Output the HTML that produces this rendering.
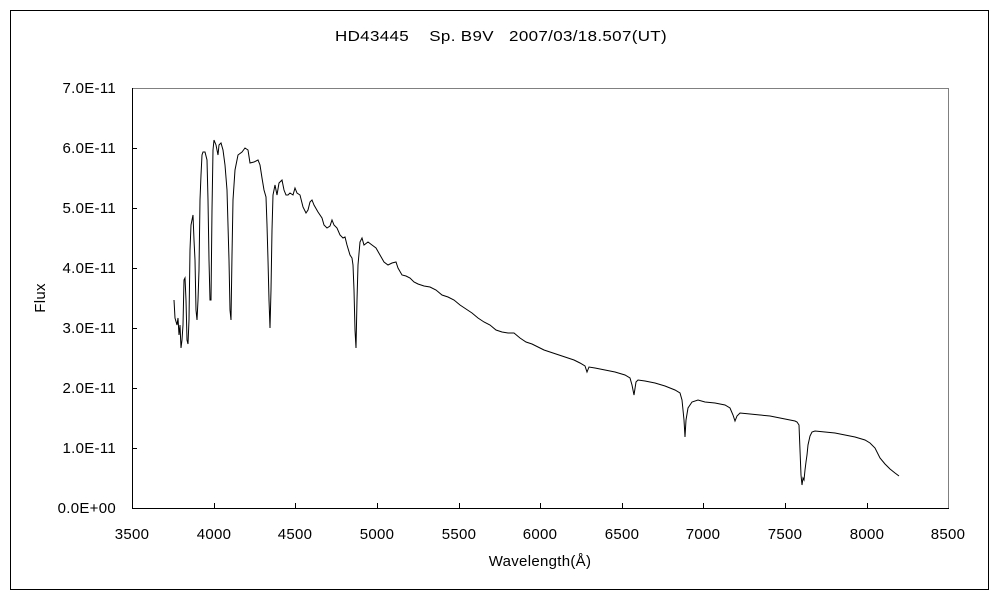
<!DOCTYPE html>
<html><head><meta charset="utf-8"><style>
body{margin:0;background:#fff}
svg text{font-family:"Liberation Sans","Noto Sans CJK JP",sans-serif;font-size:15px;fill:#000;letter-spacing:0.3px}
</style></head><body>
<svg width="1000" height="600" viewBox="0 0 1000 600" xmlns="http://www.w3.org/2000/svg">
<rect x="10.5" y="10.5" width="978" height="579" fill="#fff" stroke="#000" stroke-width="1"/>
<rect x="132.5" y="88.5" width="816" height="420" fill="#fff" stroke="#808080" stroke-width="1"/>
<line x1="132.5" y1="88" x2="132.5" y2="509" stroke="#000"/>
<line x1="132" y1="508.5" x2="949" y2="508.5" stroke="#000"/>
<g stroke="#000">
<line x1="132" y1="448.5" x2="137" y2="448.5"/><line x1="132" y1="388.5" x2="137" y2="388.5"/>
<line x1="132" y1="328.5" x2="137" y2="328.5"/><line x1="132" y1="268.5" x2="137" y2="268.5"/>
<line x1="132" y1="208.5" x2="137" y2="208.5"/><line x1="132" y1="148.5" x2="137" y2="148.5"/>
<line x1="214.5" y1="503" x2="214.5" y2="508"/><line x1="295.5" y1="503" x2="295.5" y2="508"/>
<line x1="377.5" y1="503" x2="377.5" y2="508"/><line x1="459.5" y1="503" x2="459.5" y2="508"/>
<line x1="540.5" y1="503" x2="540.5" y2="508"/><line x1="622.5" y1="503" x2="622.5" y2="508"/>
<line x1="703.5" y1="503" x2="703.5" y2="508"/><line x1="785.5" y1="503" x2="785.5" y2="508"/>
<line x1="867.5" y1="503" x2="867.5" y2="508"/>
</g>
<text x="335" y="41" textLength="332" lengthAdjust="spacingAndGlyphs" xml:space="preserve">HD43445    Sp. B9V   2007/03/18.507(UT)</text>
<g text-anchor="end">
<text x="116" y="513">0.0E+00</text><text x="116" y="453">1.0E-11</text><text x="116" y="393">2.0E-11</text>
<text x="116" y="333">3.0E-11</text><text x="116" y="273">4.0E-11</text><text x="116" y="213">5.0E-11</text>
<text x="116" y="153">6.0E-11</text><text x="116" y="93">7.0E-11</text>
</g>
<g text-anchor="middle">
<text x="132" y="539">3500</text><text x="214" y="539">4000</text><text x="295" y="539">4500</text>
<text x="377" y="539">5000</text><text x="459" y="539">5500</text><text x="540" y="539">6000</text>
<text x="622" y="539">6500</text><text x="703" y="539">7000</text><text x="785" y="539">7500</text>
<text x="867" y="539">8000</text><text x="948" y="539">8500</text>
<text x="540" y="566">Wavelength(Å)</text>
<text transform="translate(45,298) rotate(-90)">Flux</text>
</g>
<polyline fill="none" stroke="#000" stroke-width="1" points="174,300 175,318 177,325 178,318 179,335 180,325 181,348 182,340 183,325 184,280 185,278 186,300 187,340 188,344 189,320 190,250 191,225 192,220 193,215 194,240 195,260 196,310 197,320 198,300 199,270 200,200 201,175 202,155 203,152 205,152 207,160 208,200 209,260 210,300 211,300 212,210 213,150 214,140 216,145 218,155 219,145 221,143 223,150 225,165 227,190 229,260 230,310 231,320 232,255 233,200 235,170 238,155 242,152 245,148 248,150 250,163 254,162 258,160 260,165 262,178 264,190 266,197 267,225 268,260 269,300 270,328 271,290 272,230 273,195 275,185 277,195 279,183 282,180 284,190 286,195 288,195 290,193 293,195 295,188 297,193 300,195 303,207 306,213 308,210 310,202 312,200 314,205 318,212 322,218 324,225 327,228 330,226 332,220 334,225 337,228 340,235 343,238 345,237 347,245 350,255 352,258 353,265 354,290 355,330 356,348 357,300 358,265 360,242 362,238 364,245 368,242 372,245 376,248 380,255 384,262 388,265 392,263 396,262 398,268 402,275 406,276 410,278 414,282 418,284 424,286 430,287 436,290 442,295 448,297 454,300 460,305 466,309 472,313 478,318 484,322 490,325 496,330 502,332 508,333 514,333 520,338 526,342 532,344 538,347 544,350 550,352 556,354 562,356 568,358 574,360 580,363 585,366 587,372 589,367 595,368 605,370 615,372 625,375 630,378 632,385 634,395 636,382 638,380 645,381 655,383 665,386 675,390 680,393 682,400 684,420 685,437 686,420 688,408 692,402 698,400 705,402 715,403 725,405 730,408 733,415 735,421 737,416 740,413 750,414 760,415 770,416 780,418 790,420 795,421 797,422 799,425 800,450 801,475 802,485 803,478 804,480 805,470 806,462 807,455 808,445 810,436 812,432 815,431 825,432 835,433 845,435 855,437 865,440 870,443 875,448 880,458 885,464 890,469 895,473 899,476"/>
</svg>
</body></html>
